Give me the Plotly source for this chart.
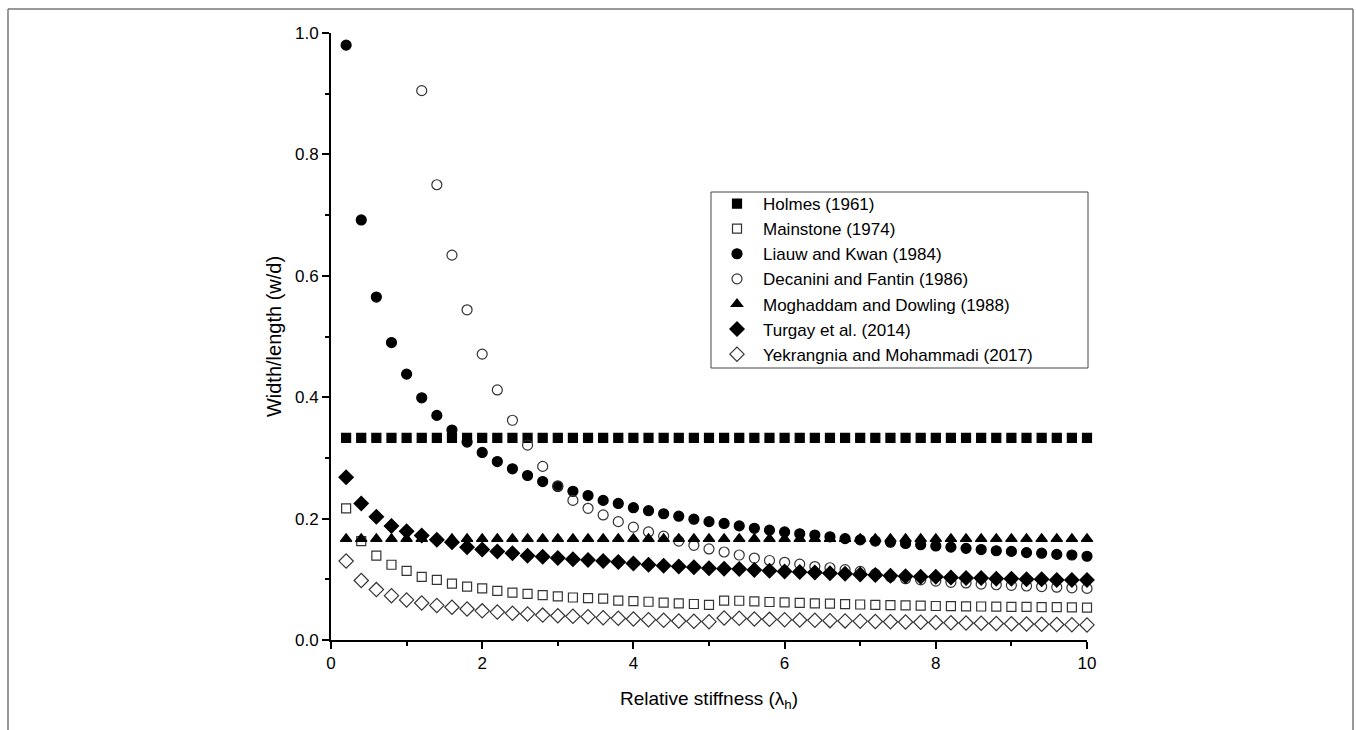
import plotly.graph_objects as go

x_vals = [0.2, 0.4, 0.6, 0.8, 1.0, 1.2, 1.4, 1.6, 1.8, 2.0,
          2.2, 2.4, 2.6, 2.8, 3.0, 3.2, 3.4, 3.6, 3.8, 4.0,
          4.2, 4.4, 4.6, 4.8, 5.0, 5.2, 5.4, 5.6, 5.8, 6.0,
          6.2, 6.4, 6.6, 6.8, 7.0, 7.2, 7.4, 7.6, 7.8, 8.0,
          8.2, 8.4, 8.6, 8.8, 9.0, 9.2, 9.4, 9.6, 9.8, 10.0]

holmes = [0.333, 0.333, 0.333, 0.333, 0.333, 0.333, 0.333, 0.333, 0.333, 0.333,
          0.333, 0.333, 0.333, 0.333, 0.333, 0.333, 0.333, 0.333, 0.333, 0.333,
          0.333, 0.333, 0.333, 0.333, 0.333, 0.333, 0.333, 0.333, 0.333, 0.333,
          0.333, 0.333, 0.333, 0.333, 0.333, 0.333, 0.333, 0.333, 0.333, 0.333,
          0.333, 0.333, 0.333, 0.333, 0.333, 0.333, 0.333, 0.333, 0.333, 0.333]

mainstone = [0.217, 0.163, 0.139, 0.124, 0.114, 0.104, 0.099, 0.093, 0.088, 0.085,
             0.081, 0.078, 0.076, 0.074, 0.072, 0.070, 0.069, 0.068, 0.065, 0.064,
             0.063, 0.0615, 0.0604, 0.0593, 0.058, 0.065, 0.0647, 0.0637, 0.0626, 0.062,
             0.061, 0.0604, 0.060, 0.059, 0.0585, 0.058, 0.0575, 0.057, 0.0565, 0.056,
             0.0558, 0.0555, 0.0552, 0.055, 0.0547, 0.0545, 0.0542, 0.054, 0.0537, 0.0535]

liauw = [0.980, 0.692, 0.565, 0.490, 0.438, 0.399, 0.370, 0.346, 0.326, 0.309,
         0.294, 0.282, 0.271, 0.261, 0.253, 0.245, 0.238, 0.230, 0.225, 0.218,
         0.213, 0.208, 0.204, 0.199, 0.195, 0.192, 0.188, 0.184, 0.181, 0.178,
         0.175, 0.173, 0.170, 0.167, 0.165, 0.163, 0.161, 0.159, 0.157, 0.155,
         0.153, 0.151, 0.149, 0.147, 0.146, 0.144, 0.143, 0.141, 0.140, 0.138]

decanini = [None, None, None, None, None, 0.905, 0.750, 0.634, 0.544, 0.471,
            0.412, 0.362, 0.321, 0.286, 0.254, 0.230, 0.217, 0.206, 0.195, 0.186,
            0.178, 0.171, 0.163, 0.156, 0.150, 0.145, 0.140, 0.135, 0.131, 0.128,
            0.125, 0.121, 0.119, 0.116, 0.113, 0.109, 0.104, 0.101, 0.099, 0.097,
            0.095, 0.094, 0.092, 0.091, 0.090, 0.089, 0.088, 0.087, 0.086, 0.085]

moghaddam = [0.1667, 0.1667, 0.1667, 0.1667, 0.1667, 0.1667, 0.1667, 0.1667, 0.1667, 0.1667,
             0.1667, 0.1667, 0.1667, 0.1667, 0.1667, 0.1667, 0.1667, 0.1667, 0.1667, 0.1667,
             0.1667, 0.1667, 0.1667, 0.1667, 0.1667, 0.1667, 0.1667, 0.1667, 0.1667, 0.1667,
             0.1667, 0.1667, 0.1667, 0.1667, 0.1667, 0.1667, 0.1667, 0.1667, 0.1667, 0.1667,
             0.1667, 0.1667, 0.1667, 0.1667, 0.1667, 0.1667, 0.1667, 0.1667, 0.1667, 0.1667]

turgay = [0.268, 0.225, 0.203, 0.188, 0.179, 0.172, 0.165, 0.161, 0.153, 0.149,
          0.146, 0.143, 0.139, 0.137, 0.135, 0.133, 0.132, 0.130, 0.1285, 0.126,
          0.124, 0.1225, 0.121, 0.1197, 0.118, 0.1175, 0.117, 0.1155, 0.114, 0.113,
          0.112, 0.111, 0.110, 0.109, 0.108, 0.107, 0.106, 0.105, 0.104, 0.104,
          0.103, 0.102, 0.102, 0.101, 0.101, 0.100, 0.100, 0.099, 0.099, 0.099]

yekrangnia = [0.130, 0.098, 0.083, 0.073, 0.066, 0.061, 0.057, 0.054, 0.051, 0.048,
              0.046, 0.044, 0.043, 0.041, 0.040, 0.039, 0.0384, 0.0368, 0.0357, 0.0346,
              0.0335, 0.0324, 0.0313, 0.0308, 0.0302, 0.0362, 0.0357, 0.0346, 0.034, 0.0335,
              0.033, 0.0324, 0.0319, 0.0315, 0.031, 0.0305, 0.030, 0.0296, 0.0292, 0.0288,
              0.0284, 0.028, 0.0276, 0.0272, 0.0268, 0.0264, 0.026, 0.0256, 0.0252, 0.0248]

series_names = ["Holmes (1961)", "Mainstone (1974)", "Liauw and Kwan (1984)",
                "Decanini and Fantin (1986)", "Moghaddam and Dowling (1988)",
                "Turgay et al. (2014)", "Yekrangnia and Mohammadi (2017)"]
series_values = [holmes, mainstone, liauw, decanini, moghaddam, turgay, yekrangnia]
symbols = ["square", "square-open", "circle", "circle-open", "triangle-up", "diamond", "diamond-open"]
sizes = [9, 9, 10, 10, 10, 11, 11]
colors = ["#000000", "#333333", "#000000", "#333333", "#000000", "#000000", "#333333"]

fig = go.Figure()
for name, vals, sym, sz, col in zip(series_names, series_values, symbols, sizes, colors):
    fig.add_trace(go.Scatter(
        x=x_vals, y=vals, mode="markers", name=name,
        marker=dict(symbol=sym, size=sz, color=col, line=dict(width=1.2, color=col)),
        cliponaxis=False,
    ))

W, H = 1356, 730
L, R, T, B = 331, 269, 33, 90
pw, ph = W - L - R, H - T - B

def px_to_paper_x(px):
    return (px - L) / pw

def px_to_paper_y(py):
    return (H - B - py) / ph

fig.update_layout(
    width=W, height=H,
    margin=dict(l=L, r=R, t=T, b=B, pad=0),
    paper_bgcolor="white", plot_bgcolor="white",
    font=dict(family="Arial, Liberation Sans, sans-serif", size=17, color="black"),
    showlegend=True,
    legend=dict(
        x=px_to_paper_x(711), y=px_to_paper_y(186), xanchor="left", yanchor="top",
        borderwidth=0, bgcolor="rgba(0,0,0,0)",
        font=dict(size=17, color="black"),
        itemwidth=42, tracegroupgap=0,
    ),
    xaxis=dict(
        range=[0, 10], showgrid=False, zeroline=False,
        showline=True, linecolor="black", linewidth=2,
        ticks="outside", ticklen=7, tickwidth=2, tickcolor="black",
        tickvals=[0, 2, 4, 6, 8, 10],
        minor=dict(tickvals=[1, 3, 5, 7, 9], ticks="outside", ticklen=4, tickwidth=2, tickcolor="black"),
        tickfont=dict(size=17),
        title=dict(text="Relative stiffness (λ<sub>h</sub>)", font=dict(size=19), standoff=19),
    ),
    yaxis=dict(
        range=[0, 1.0], showgrid=False, zeroline=False,
        showline=True, linecolor="black", linewidth=2,
        ticks="outside", ticklen=7, tickwidth=2, tickcolor="black",
        tickvals=[0.0, 0.2, 0.4, 0.6, 0.8, 1.0], ticktext=["0.0", "0.2", "0.4", "0.6", "0.8", "1.0"],
        minor=dict(tickvals=[0.1, 0.3, 0.5, 0.7, 0.9], ticks="outside", ticklen=4, tickwidth=2, tickcolor="black"),
        tickfont=dict(size=17),
        title=dict(text="Width/length (w/d)", font=dict(size=20), standoff=8),
    ),
    shapes=[
        # legend frame
        dict(type="rect", xref="paper", yref="paper", layer="above",
             x0=px_to_paper_x(711), x1=px_to_paper_x(1088), y0=px_to_paper_y(192), y1=px_to_paper_y(368),
             line=dict(color="#444444", width=1)),
        # outer figure frame
        dict(type="line", xref="paper", yref="paper",
             x0=px_to_paper_x(8), x1=px_to_paper_x(8), y0=px_to_paper_y(9), y1=px_to_paper_y(740),
             line=dict(color="#777777", width=1.5)),
        dict(type="line", xref="paper", yref="paper",
             x0=px_to_paper_x(8), x1=px_to_paper_x(1353), y0=px_to_paper_y(9), y1=px_to_paper_y(9),
             line=dict(color="#777777", width=1.5)),
        dict(type="line", xref="paper", yref="paper",
             x0=px_to_paper_x(1353), x1=px_to_paper_x(1353), y0=px_to_paper_y(9), y1=px_to_paper_y(740),
             line=dict(color="#777777", width=1.5)),
    ],
)

fig.write_html("out.html")
